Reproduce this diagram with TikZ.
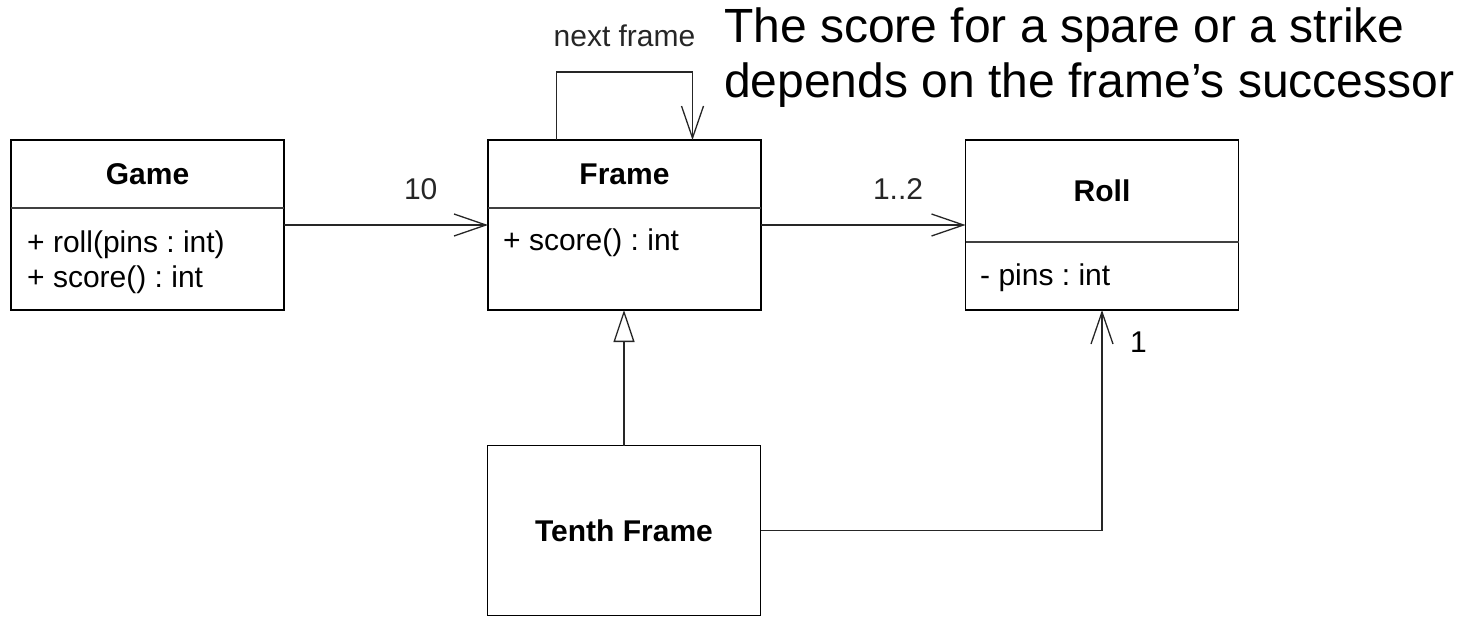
\documentclass[tikz,border=0pt]{standalone}
\usepackage{fontspec}
\setmainfont{Liberation Sans}
\usetikzlibrary{arrows.meta}
\frenchspacing
\newcommand{\umlfont}{\fontsize{30}{34}\selectfont}
\newcommand{\notefont}{\fontsize{48}{55}\selectfont}
\tikzset{
  classbox/.style={draw, line width=1.6pt, minimum width=273pt, minimum height=170pt, inner sep=0pt, outer sep=0pt},
  classname/.style={font=\umlfont\bfseries, inner sep=0pt},
  member/.style={anchor=base west, inner sep=0pt},
  divider/.style={line width=1.2pt, black!75},
  assoc/.style={line width=1.3pt, black!85, -{Straight Barb[length=32pt, width=22pt]}},
  inherit/.style={line width=1.3pt, black!85, -{Triangle[open, length=32pt, width=21pt, fill=white]}},
  mult/.style={inner sep=0pt},
  note/.style={anchor=north west, align=left, inner sep=0pt, font=\notefont}
}
\begin{document}
\begin{tikzpicture}[x=1pt, y=-1pt, font=\umlfont]
  \useasboundingbox (0,0) rectangle (1472,616);

  \node[classbox] (game) at (147.5,225) {};
  \node[classbox] (frame) at (624.5,225) {};
  \node[classbox] (roll) at (1102,225) {};
  \node[classbox, font=\umlfont\bfseries] (tenth) at (624,530.5) {Tenth Frame};

  \node[classname] (gamename) at (147.5,174) {Game};
  \node[classname] (framename) at (624.5,174) {Frame};
  \node[classname] (rollname) at (1102,191) {Roll};

  \draw[divider] ([yshift=-68pt]game.north west) -- ([yshift=-68pt]game.north east);
  \draw[divider] ([yshift=-68pt]frame.north west) -- ([yshift=-68pt]frame.north east);
  \draw[divider] ([yshift=-102pt]roll.north west) -- ([yshift=-102pt]roll.north east);

  \node[member] (gameroll) at (27,252) {+ roll(pins : int)};
  \node[member] (gamescore) at (27,287) {+ score() : int};
  \node[member] (framescore) at (503,250) {+ score() : int};
  \node[member] (rollpins) at (980,285) {- pins : int};

  \draw[assoc] (game.east) -- node[mult, above=25pt, pos=0.67] {10} (frame.west);
  \draw[assoc] (frame.east) -- node[mult, above=25pt, pos=0.67] {1..2} (roll.west);
  \draw[assoc] ([xshift=-68pt]frame.north) -- ++(0,-68) -| node[mult, above=25pt, pos=0.25] {next frame} ([xshift=68pt]frame.north);
  \draw[inherit] (tenth.north) -- (tenth.north |- frame.south);
  \draw[assoc] (tenth.east) -| (roll.south);
  \node[mult, anchor=north west] (rollone) at (1130,332) {1};

  \node[note] (remark) at (724,8) {The score for a spare or a strike\\depends on the frame’s successor};
\end{tikzpicture}
\end{document}
